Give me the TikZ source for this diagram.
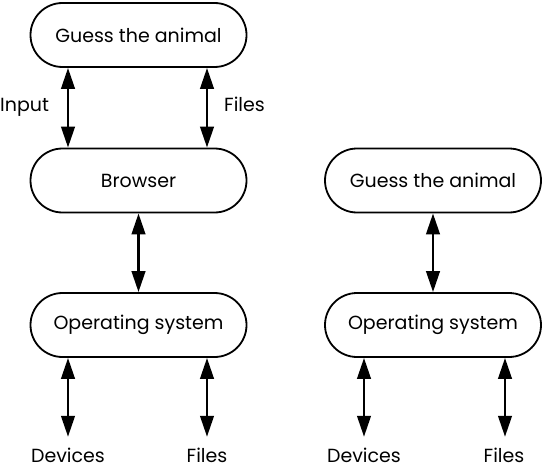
\documentclass[tikz,border=0pt]{standalone}
\usepackage{fontspec}
\setmainfont{Poppins}
\usetikzlibrary{arrows.meta}
\begin{document}
\begin{tikzpicture}[x=1pt,y=-1pt,
  every node/.style={font=\fontsize{19}{22}\selectfont},
  pill/.style={draw, line width=1.8pt, rounded corners=32pt, minimum width=216pt, minimum height=64pt, inner sep=0pt},
  lbl/.style={inner sep=0pt, text height=14pt, text depth=1pt},
  biarrow/.style={line width=2.7pt, {Triangle[length=21pt,width=13.5pt]}-{Triangle[length=21pt,width=13.5pt]}}]
\useasboundingbox (0,0) rectangle (543,468);
% left column
\node[pill] (g1) at (138.5,35) {Guess the animal};
\node[pill] (b1) at (138.5,180.5) {Browser};
\node[pill] (o1) at (138.5,325) {Operating system};
\node[lbl, anchor=west] (in) at (0,105) {Input};
\node[lbl, anchor=west] (f1) at (224,105) {Files};
\node[lbl] (d1) at (68,456) {Devices};
\node[lbl] (f2) at (207,456) {Files};
\draw[biarrow] ([xshift=-70.5pt]g1.south) -- ([xshift=-70.5pt]b1.north);
\draw[biarrow] ([xshift=68.5pt]g1.south) -- ([xshift=68.5pt]b1.north);
\draw[biarrow] (b1.south) -- (o1.north);
\draw[biarrow, shorten >=11.5pt] ([xshift=-70.5pt]o1.south) -- (d1.north);
\draw[biarrow, shorten >=11.5pt] ([xshift=68.5pt]o1.south) -- (f2.north);
% right column
\node[pill] (g2) at (433,180.5) {Guess the animal};
\node[pill] (o2) at (433,325) {Operating system};
\node[lbl] (d2) at (364,456) {Devices};
\node[lbl] (f3) at (504,456) {Files};
\draw[biarrow] (g2.south) -- (o2.north);
\draw[biarrow, shorten >=11.5pt] ([xshift=-69pt]o2.south) -- ([xshift=-69pt]o2.south |- d2.north);
\draw[biarrow, shorten >=11.5pt] ([xshift=72pt]o2.south) -- ([xshift=72pt]o2.south |- f3.north);
\end{tikzpicture}
\end{document}
